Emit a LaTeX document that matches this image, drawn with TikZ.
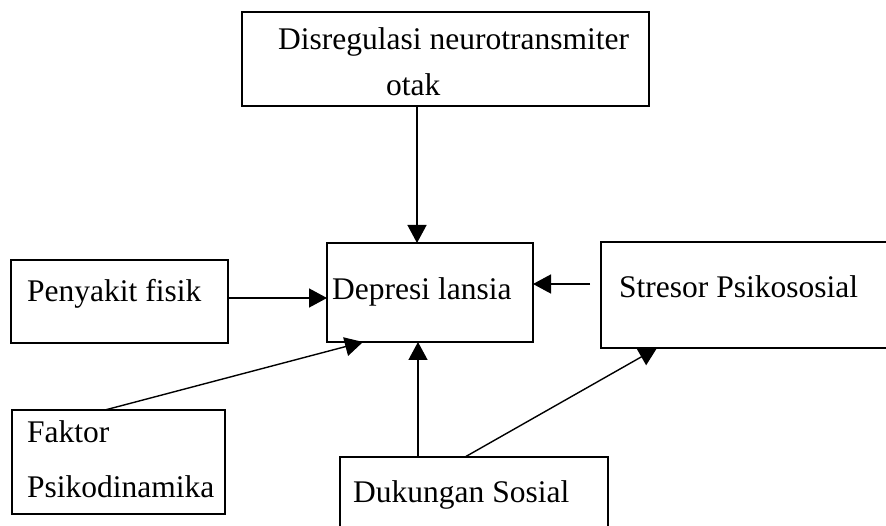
\documentclass[tikz,border=0pt]{standalone}
\usepackage{fontspec}
\setmainfont{Liberation Serif}
\usetikzlibrary{arrows.meta,calc}
\begin{document}
\begin{tikzpicture}[x=1pt,y=-1pt,
  box/.style={draw=black,line width=1.4pt,inner sep=0pt,outer sep=0pt,anchor=north west},
  lbl/.style={inner sep=0pt,anchor=base west,font=\fontsize{31.5}{36}\selectfont},
  arr/.style={draw=black,line width=1.4pt,-{Triangle[length=18pt,width=19pt]}}]
\useasboundingbox (0,0) rectangle (886,526);
\fill[white] (0,0) rectangle (886,526);
% boxes
\node[box,minimum width=407pt,minimum height=94pt] (top) at (242,12) {};
\node[box,minimum width=217pt,minimum height=83pt] (pen) at (11,260) {};
\node[box,minimum width=206pt,minimum height=99pt] (dep) at (327,243) {};
\node[box,minimum width=292pt,minimum height=106pt] (str) at (601,242) {};
\node[box,minimum width=213pt,minimum height=104pt] (fak) at (12,410) {};
\node[box,minimum width=268pt,minimum height=80pt] (duk) at (340,457) {};
% labels
\node[lbl] (t1) at (278,50) {Disregulasi neurotransmiter};
\node[lbl] (t2) at (386,96) {otak};
\node[lbl] (t3) at (27,302) {Penyakit fisik};
\node[lbl] (t4) at (332,300) {Depresi lansia};
\node[lbl] (t5) at (619,298) {Stresor Psikososial};
\node[lbl] (t6) at (27,442) {Faktor};
\node[lbl] (t7) at (27,497) {Psikodinamika};
\node[lbl] (t8) at (353,502) {Dukungan Sosial};
% connectors
\draw[arr] ($(top.south west)+(175,0)$) -- ($(dep.north west)+(90,0)$);
\draw[arr] ($(pen.north east)+(0,38)$) -- ($(dep.north west)+(0,55)$);
\draw[arr,shorten <=11pt] ($(str.north west)+(0,42)$) -- ($(dep.north east)+(0,41)$);
\draw[arr] ($(fak.north west)+(93,0)$) -- ($(dep.south west)+(36,0)$);
\draw[arr] ($(duk.north west)+(78,0)$) -- ($(dep.south west)+(91,0)$);
\draw[arr] ($(duk.north west)+(125,0)$) -- ($(str.south west)+(56,0)$);
\end{tikzpicture}
\end{document}
